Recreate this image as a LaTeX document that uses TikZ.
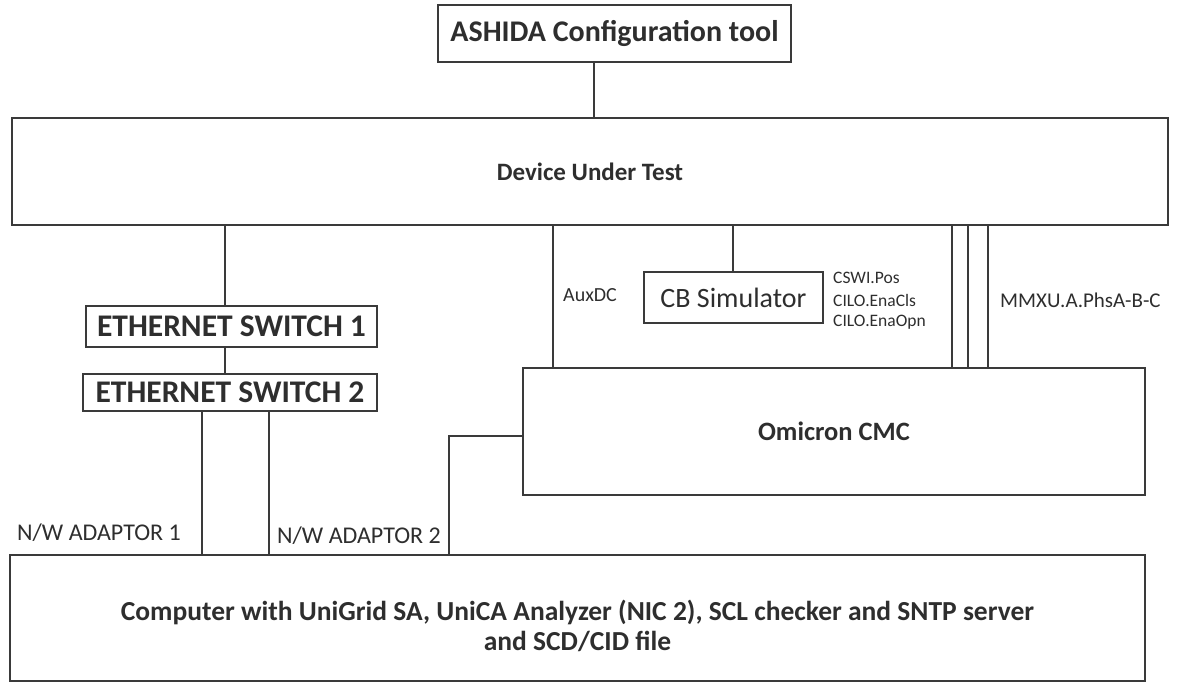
\documentclass[tikz,border=0pt]{standalone}
\usepackage{fontspec}
\setmainfont{Carlito}
\definecolor{linec}{HTML}{3A3A3A}
\definecolor{textc}{HTML}{2E2E2E}
\tikzset{
  box/.style={draw=linec, line width=1.6pt, rectangle, inner sep=0pt, text=textc, align=center},
  conn/.style={draw=linec, line width=1.3pt},
  lbl/.style={text=textc, inner sep=0pt, anchor=west},
}
\newcommand{\fs}[1]{\fontsize{#1}{#1}\selectfont}
\begin{document}
\begin{tikzpicture}[x=1pt,y=-1pt]
\useasboundingbox (0,0) rectangle (1184,684);
% boxes
\node[box, minimum width=353pt, minimum height=57pt, font=\fs{30}\bfseries] (ashida) at (614.5,33.5) {ASHIDA Configuration tool};
\node[box, minimum width=1156pt, minimum height=107pt, font=\fs{25}\bfseries] (dut) at (590,171.5) {Device Under Test};
\node[box, minimum width=291pt, minimum height=41pt, font=\fs{31.5}\bfseries] (sw1) at (231.5,326.5) {ETHERNET SWITCH 1};
\node[box, minimum width=294pt, minimum height=37pt, font=\fs{31.5}\bfseries] (sw2) at (230,392.5) {ETHERNET SWITCH 2};
\node[box, minimum width=179pt, minimum height=51pt, font=\fs{28}] (cb) at (733.5,297.5) {CB Simulator};
\node[box, minimum width=622pt, minimum height=127pt, font=\fs{26.5}\bfseries] (omi) at (834,431.5) {Omicron CMC};
\node[box, minimum width=1135pt, minimum height=126pt] (pc) at (577.5,618) {};
\node[text=textc, align=center, inner sep=0pt, font={\fontsize{27.5}{30}\selectfont\bfseries}] (pctext) at (577.5,626) {Computer with UniGrid SA, UniCA Analyzer (NIC 2), SCL checker and SNTP server\\ and SCD/CID file};
% labels
\node[lbl, font=\fs{20}] (auxdc) at (563,295) {AuxDC};
\node[lbl, font=\fs{17.5}] (cswi) at (833,278) {CSWI.Pos};
\node[lbl, font=\fs{17.5}] (ilocls) at (833,300) {CILO.EnaCls};
\node[lbl, font=\fs{17.5}] (ilo) at (833,322) {CILO.EnaOpn};
\node[lbl, font=\fs{21}] (mmxu) at (1000,300) {MMXU.A.PhsA-B-C};
\node[lbl, font=\fs{24}, anchor=base west] (nw1) at (17,540) {N/W ADAPTOR 1};
\node[lbl, font=\fs{24}, anchor=base west] (nw2) at (277,543) {N/W ADAPTOR 2};
% x positions of connectors
\coordinate (xa) at (594,0);
\coordinate (xs) at (225,0);
\coordinate (xn1) at (202,0);
\coordinate (xn2) at (269,0);
\coordinate (yb) at (0,436);
\coordinate (xb) at (449,0);
\coordinate (xaux) at (553,0);
\coordinate (xcb) at (733,0);
\coordinate (xm1) at (952,0);
\coordinate (xm2) at (968,0);
\coordinate (xm3) at (988,0);
% connectors
\draw[conn] (ashida.south -| xa) -- (dut.north -| xa);
\draw[conn] (dut.south -| xs) -- (sw1.north -| xs);
\draw[conn] (sw1.south -| xs) -- (sw2.north -| xs);
\draw[conn] (sw2.south -| xn1) -- (pc.north -| xn1);
\draw[conn] (sw2.south -| xn2) -- (pc.north -| xn2);
\draw[conn] (omi.west |- yb) -| (pc.north -| xb);
\draw[conn] (dut.south -| xaux) -- (omi.north -| xaux);
\draw[conn] (dut.south -| xcb) -- (cb.north -| xcb);
\draw[conn] (dut.south -| xm1) -- (omi.north -| xm1);
\draw[conn] (dut.south -| xm2) -- (omi.north -| xm2);
\draw[conn] (dut.south -| xm3) -- (omi.north -| xm3);
\end{tikzpicture}
\end{document}
